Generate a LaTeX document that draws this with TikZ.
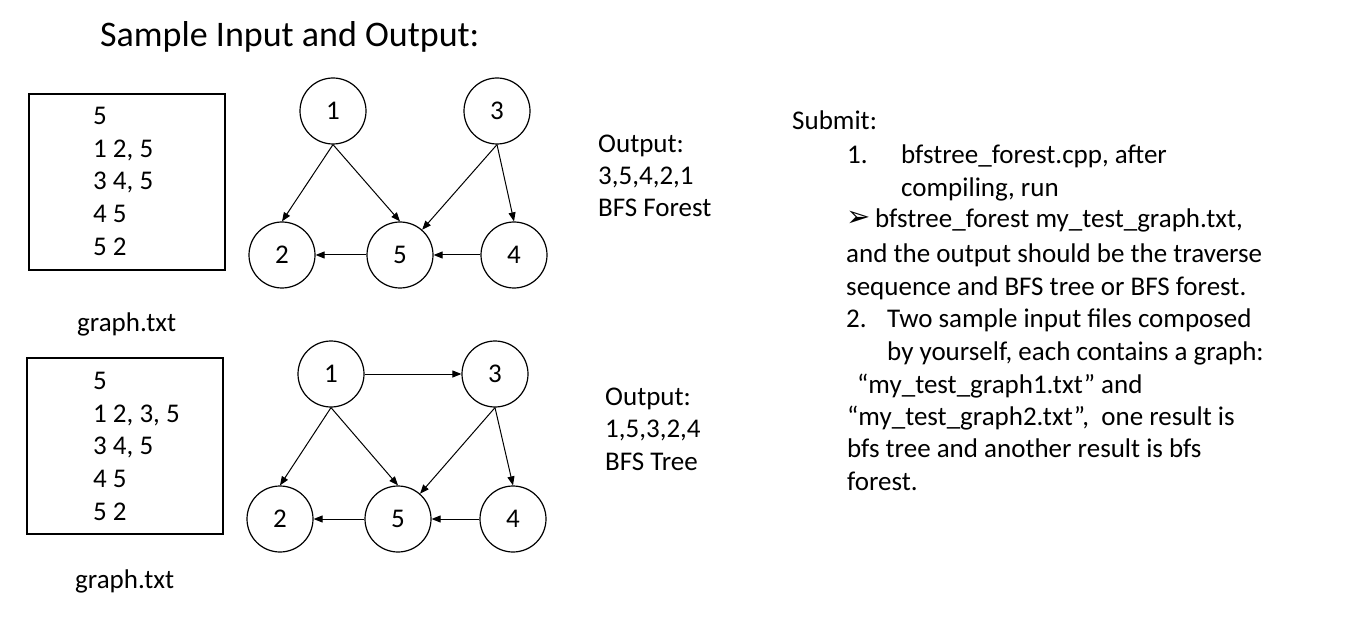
\documentclass[tikz,border=0pt]{standalone}
\usepackage{fontspec}
\setmainfont{Carlito}
\newfontfamily\symfont{DejaVu Sans}
\usetikzlibrary{arrows.meta}
\begin{document}
\begin{tikzpicture}[x=1pt,y=-1pt,
  vtx/.style={circle,draw,line width=1.2pt,minimum size=66pt,inner sep=0pt,font=\fontsize{27}{32}\selectfont},
  edge/.style={line width=1pt,-{Triangle[length=9pt,width=7pt]}},
  txt/.style={anchor=base west,inner sep=0pt,font=\fontsize{27}{32.7}\selectfont},
  filebox/.style={draw,line width=2pt}]
\useasboundingbox (0,0) rectangle (1358,639);
\fill[white] (0,0) rectangle (1358,639);
% title
\node[txt,font=\fontsize{36}{43}\selectfont] (title) at (100,47) {Sample Input and Output:};
% box 1
\draw[filebox] (29,94) rectangle (225,270);
\node[txt] (a1) at (93,125) {5};
\node[txt] (a2) at (93,158) {1 2, 5};
\node[txt] (a3) at (93,190) {3 4, 5};
\node[txt] (a4) at (93,223) {4 5};
\node[txt] (a5) at (93,256) {5 2};
\node[txt] (g1) at (77,331) {graph.txt};
% box 2
\draw[filebox] (27,358) rectangle (223,534);
\node[txt] (b1) at (93,389) {5};
\node[txt] (b2) at (93,422) {1 2, 3, 5};
\node[txt] (b3) at (93,454) {3 4, 5};
\node[txt] (b4) at (93,487) {4 5};
\node[txt] (b5) at (93,520) {5 2};
\node[txt] (g2) at (75,588) {graph.txt};
% graph 1
\node[vtx] (t1) at (333,111) {1};
\node[vtx] (t3) at (497,111) {3};
\node[vtx] (t2) at (282,255) {2};
\node[vtx] (t5) at (400,255) {5};
\node[vtx] (t4) at (514,255) {4};
\draw[edge] (t1.south) -- (t2.north);
\draw[edge] (t1.south) -- (t5.north);
\draw[edge] (t3.south) -- (t5);
\draw[edge] (t3.south) -- (t4.north);
\draw[edge] (t5.west) -- (t2.east);
\draw[edge] (t4.west) -- (t5.east);
% graph 2
\node[vtx] (u1) at (331,374) {1};
\node[vtx] (u3) at (495,374) {3};
\node[vtx] (u2) at (280,519) {2};
\node[vtx] (u5) at (398,519) {5};
\node[vtx] (u4) at (513,519) {4};
\draw[edge] (u1.east) -- (u3.west);
\draw[edge] (u1.south) -- (u2.north);
\draw[edge] (u1.south) -- (u5.north);
\draw[edge] (u3.south) -- (u5);
\draw[edge] (u3.south) -- (u4.north);
\draw[edge] (u5.west) -- (u2.east);
\draw[edge] (u4.west) -- (u5.east);
% outputs
\node[txt] (o1) at (598,153) {Output:};
\node[txt] (o2) at (598,185) {3,5,4,2,1};
\node[txt] (o3) at (598,217) {BFS Forest};
\node[txt] (p1) at (605,405) {Output:};
\node[txt] (p2) at (605,437) {1,5,3,2,4};
\node[txt] (p3) at (605,470) {BFS Tree};
% submit text
\node[txt] (s0) at (792,130) {Submit:};
\node[txt] (s1n) at (847,164) {1.};
\node[txt] (s1) at (901,164) {bfstree\_forest.cpp, after};
\node[txt] (s2) at (901,197) {compiling, run};
\node[txt] (s3a) at (846,227) {{\symfont\fontsize{29}{32}\selectfont ➢}};
\node[txt] (s3) at (875,228) {bfstree\_forest my\_test\_graph.txt,};
\node[txt] (s4) at (846,262) {and the output should be the traverse};
\node[txt] (s5) at (846,295) {sequence and BFS tree or BFS forest.};
\node[txt] (s6n) at (846,327) {2.};
\node[txt] (s6) at (887,327) {Two sample input files composed};
\node[txt] (s7) at (887,360) {by yourself, each contains a graph:};
\node[txt] (s8) at (857,393) {“my\_test\_graph1.txt” and};
\node[txt] (s9) at (847,425) {“my\_test\_graph2.txt”,\ \ one result is};
\node[txt] (s10) at (847,457) {bfs tree and another result is bfs};
\node[txt] (s11) at (847,490) {forest.};
\end{tikzpicture}
\end{document}
